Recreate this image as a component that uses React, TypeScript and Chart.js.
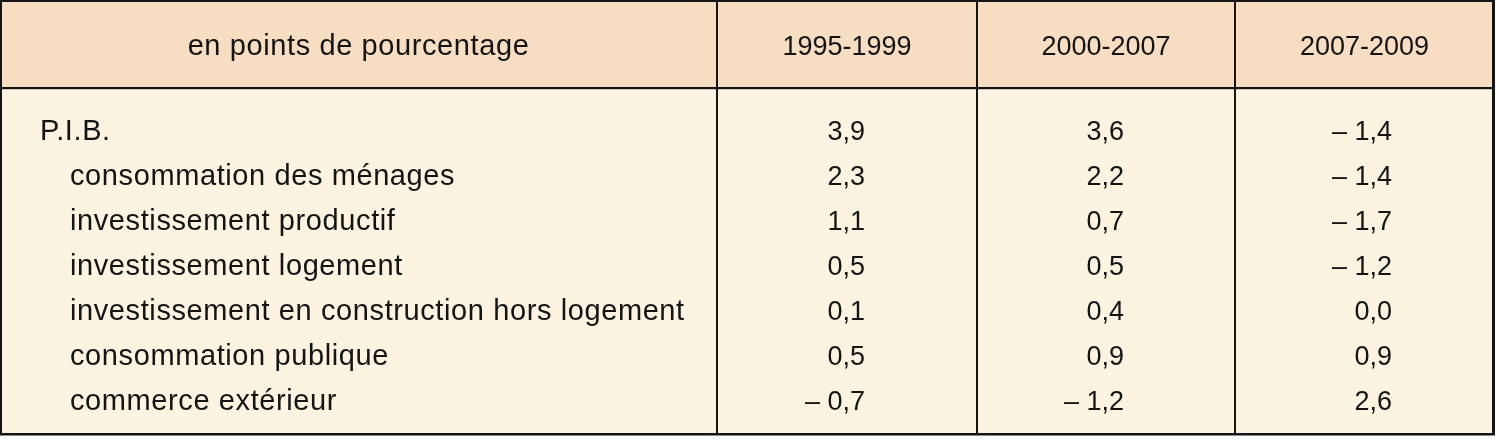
import React, { useEffect, useRef } from "react";
import { Chart, registerables } from "chart.js";

Chart.register(...registerables);

// ---- data ----
const columnHeaders = ["en points de pourcentage", "1995-1999", "2000-2007", "2007-2009"];
const rowLabels = [
  "P.I.B.",
  "consommation des ménages",
  "investissement productif",
  "investissement logement",
  "investissement en construction hors logement",
  "consommation publique",
  "commerce extérieur",
];
const rowIndented = [false, true, true, true, true, true, true];
const values1995_1999 = [3.9, 2.3, 1.1, 0.5, 0.1, 0.5, -0.7];
const values2000_2007 = [3.6, 2.2, 0.7, 0.5, 0.4, 0.9, -1.2];
const values2007_2009 = [-1.4, -1.4, -1.7, -1.2, 0.0, 0.9, 2.6];
const seriesValues = [values1995_1999, values2000_2007, values2007_2009];

// ---- layout & style ----
const W = 1498;
const H = 441;
const LAYOUT = {
  colEdges: [0, 717, 977, 1235, 1494],
  numberRight: [865, 1124, 1392],
  labelX: 40,
  indentX: 70,
  firstBaseline: 140,
  rowStep: 45,
  headerBaseline: 55,
  headerBottom: 88,
  tableBottom: 435,
};
const STYLE = {
  headerBg: "#f7dec3",
  bodyBg: "#fcf3e1",
  line: "#151515",
  text: "#141414",
  labelFont: '29px "Liberation Sans", Arial, sans-serif',
  numberFont: '27px "Liberation Sans", Arial, sans-serif',
  labelSpacing: "0.6px",
};

const fmt = (v: number) => {
  const s = Math.abs(v).toFixed(1).replace(".", ",");
  return v < 0 ? "– " + s : s;
};

// y scale in "row units": row i baseline sits at value i
const yMin = -LAYOUT.firstBaseline / LAYOUT.rowStep;
const yMax = (H - LAYOUT.firstBaseline) / LAYOUT.rowStep;
const pxToRow = (px: number) => (px - LAYOUT.firstBaseline) / LAYOUT.rowStep;

const tablePlugin = {
  id: "tablePlugin",
  beforeDraw(chart: any) {
    const ctx = chart.ctx as CanvasRenderingContext2D;
    const xs = chart.scales.x;
    const ys = chart.scales.y;
    const X = (v: number) => xs.getPixelForValue(v);
    const Y = (r: number) => ys.getPixelForValue(r);
    const e = LAYOUT.colEdges;
    const top = Y(pxToRow(0));
    const hb = Y(pxToRow(LAYOUT.headerBottom));
    const bot = Y(pxToRow(LAYOUT.tableBottom));
    const left = X(e[0]);
    const right = X(e[e.length - 1]);

    ctx.save();
    ctx.fillStyle = "#ffffff";
    ctx.fillRect(0, 0, chart.width, chart.height);

    // backgrounds
    ctx.fillStyle = STYLE.headerBg;
    ctx.fillRect(left, top, right - left, hb - top);
    ctx.fillStyle = STYLE.bodyBg;
    ctx.fillRect(left, hb, right - left, bot - hb);

    // grid lines
    ctx.fillStyle = STYLE.line;
    ctx.fillRect(left, top, right - left + 1, 2); // top
    ctx.fillRect(left, bot - 2, right - left + 1, 2.5); // bottom
    ctx.fillRect(left, top, 2, bot - top); // left
    ctx.fillRect(right - 2, top, 3, bot - top); // right
    ctx.fillRect(left, hb - 1, right - left, 2.2); // header separator
    for (let k = 1; k < e.length - 1; k++) {
      ctx.fillRect(X(e[k]) - 1, top, 2, bot - top);
    }

    // header text
    ctx.fillStyle = STYLE.text;
    ctx.textBaseline = "alphabetic";
    ctx.textAlign = "center";
    const hy = Y(pxToRow(LAYOUT.headerBaseline));
    columnHeaders.forEach((h, k) => {
      ctx.font = k === 0 ? STYLE.labelFont : STYLE.numberFont;
      (ctx as any).letterSpacing = k === 0 ? STYLE.labelSpacing : "0px";
      const cx = (X(e[k]) + X(e[k + 1])) / 2;
      ctx.fillText(h, cx, hy);
    });

    // row labels
    ctx.textAlign = "left";
    ctx.font = STYLE.labelFont;
    (ctx as any).letterSpacing = STYLE.labelSpacing;
    rowLabels.forEach((lab, i) => {
      const x = X(rowIndented[i] ? LAYOUT.indentX : LAYOUT.labelX);
      ctx.fillText(lab, x, Y(i));
    });

    // values
    ctx.textAlign = "right";
    ctx.font = STYLE.numberFont;
    (ctx as any).letterSpacing = "0px";
    seriesValues.forEach((vals, k) => {
      vals.forEach((v, i) => {
        ctx.fillText(fmt(v), X(LAYOUT.numberRight[k]), Y(i));
      });
    });
    ctx.restore();
  },
};

export default function App() {
  const ref = useRef<HTMLCanvasElement | null>(null);
  useEffect(() => {
    if (!ref.current) return;
    const chart = new Chart(ref.current, {
      type: "scatter",
      data: { datasets: [] },
      options: {
        responsive: false,
        maintainAspectRatio: false,
        animation: false,
        events: [],
        layout: { padding: 0 },
        plugins: { legend: { display: false }, tooltip: { enabled: false } },
        scales: {
          x: { type: "linear", display: false, min: 0, max: W },
          y: { type: "linear", display: false, reverse: true, min: yMin, max: yMax },
        },
      },
      plugins: [tablePlugin],
    } as any);
    return () => chart.destroy();
  }, []);
  return (
    <div style={{ position: "fixed", left: 0, top: 0, width: W, height: H, background: "#fff" }}>
      <canvas ref={ref} width={W} height={H} style={{ width: W, height: H, display: "block" }} />
    </div>
  );
}
